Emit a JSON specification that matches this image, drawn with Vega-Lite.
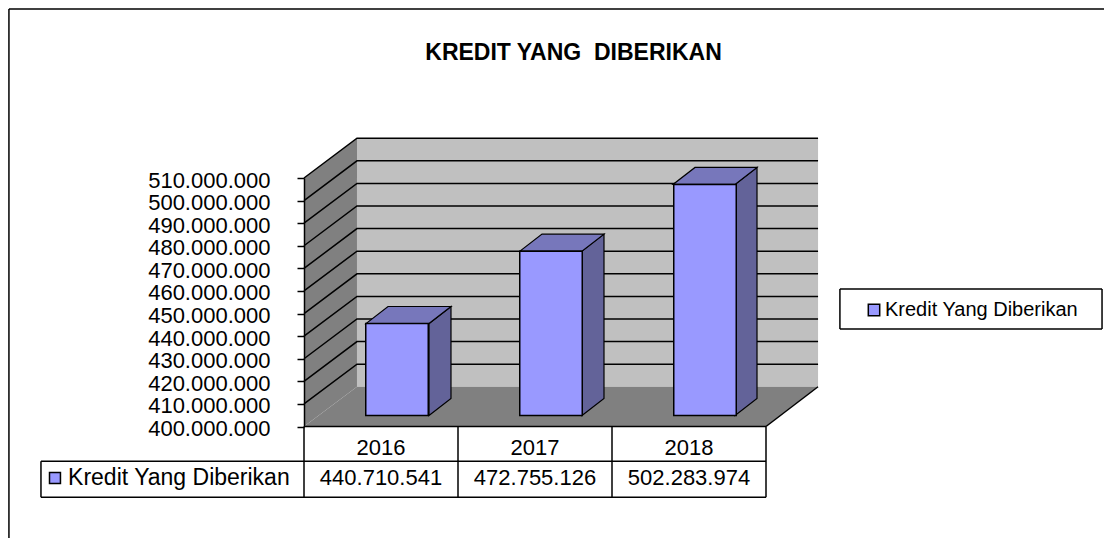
{
"$schema":"https://vega.github.io/schema/vega-lite/v6.json",
"width":462,"height":248.5,
"autosize":"none",
"padding":{"left":304,"top":178,"right":338,"bottom":111.5},
"background":"white",
"config":{"view":{"stroke":null},"font":"Liberation Sans","locale":{"number":{"decimal":",","thousands":".","grouping":[3],"currency":["",""]}}},
"datasets":{
"bars":[
{"year":"2016","value":440710541,"series":"Kredit Yang Diberikan"},
{"year":"2017","value":472755126,"series":"Kredit Yang Diberikan"},
{"year":"2018","value":502283974,"series":"Kredit Yang Diberikan"}],
"room":[
{"id":"wall","face":"wall","pos":0.344,"low":417600000,"high":527600000},
{"id":"wall","face":"wall","pos":3.338,"low":417600000,"high":527600000},
{"id":"side","face":"side wall","pos":0,"low":400000000,"high":510000000},
{"id":"side","face":"side wall","pos":0.344,"low":417600000,"high":527600000},
{"id":"floor","face":"floor","pos":0,"low":400000000,"high":400000000},
{"id":"floor","face":"floor","pos":0.344,"low":400000000,"high":417600000},
{"id":"floor","face":"floor","pos":3,"low":400000000,"high":417600000},
{"id":"floor","face":"floor","pos":3.338,"low":417600000,"high":417600000}],
"faces":[
{"id":"s16","face":"bar side","pos":0.8117,"low":404870000,"high":445580000},
{"id":"s16","face":"bar side","pos":0.9545,"low":412400000,"high":453110000},
{"id":"s17","face":"bar side","pos":1.8052,"low":404870000,"high":477625000},
{"id":"s17","face":"bar side","pos":1.948,"low":412400000,"high":485155000},
{"id":"s18","face":"bar side","pos":2.799,"low":404870000,"high":507154000},
{"id":"s18","face":"bar side","pos":2.9416,"low":412400000,"high":514684000},
{"id":"t16","face":"bar top","pos":0.4026,"low":445580000,"high":445580000},
{"id":"t16","face":"bar top","pos":0.5455,"low":445580000,"high":453110000},
{"id":"t16","face":"bar top","pos":0.8117,"low":445580000,"high":453110000},
{"id":"t16","face":"bar top","pos":0.9545,"low":453110000,"high":453110000},
{"id":"t17","face":"bar top","pos":1.4026,"low":477625000,"high":477625000},
{"id":"t17","face":"bar top","pos":1.5455,"low":477625000,"high":485155000},
{"id":"t17","face":"bar top","pos":1.8052,"low":477625000,"high":485155000},
{"id":"t17","face":"bar top","pos":1.948,"low":485155000,"high":485155000},
{"id":"t18","face":"bar top","pos":2.396,"low":507154000,"high":507154000},
{"id":"t18","face":"bar top","pos":2.539,"low":507154000,"high":514684000},
{"id":"t18","face":"bar top","pos":2.799,"low":507154000,"high":514684000},
{"id":"t18","face":"bar top","pos":2.9416,"low":514684000,"high":514684000}],
"grid":[
{"tick":410,"pos":0,"level":410000000},{"tick":410,"pos":0.344,"level":427600000},{"tick":410,"pos":3.338,"level":427600000},
{"tick":420,"pos":0,"level":420000000},{"tick":420,"pos":0.344,"level":437600000},{"tick":420,"pos":3.338,"level":437600000},
{"tick":430,"pos":0,"level":430000000},{"tick":430,"pos":0.344,"level":447600000},{"tick":430,"pos":3.338,"level":447600000},
{"tick":440,"pos":0,"level":440000000},{"tick":440,"pos":0.344,"level":457600000},{"tick":440,"pos":3.338,"level":457600000},
{"tick":450,"pos":0,"level":450000000},{"tick":450,"pos":0.344,"level":467600000},{"tick":450,"pos":3.338,"level":467600000},
{"tick":460,"pos":0,"level":460000000},{"tick":460,"pos":0.344,"level":477600000},{"tick":460,"pos":3.338,"level":477600000},
{"tick":470,"pos":0,"level":470000000},{"tick":470,"pos":0.344,"level":487600000},{"tick":470,"pos":3.338,"level":487600000},
{"tick":480,"pos":0,"level":480000000},{"tick":480,"pos":0.344,"level":497600000},{"tick":480,"pos":3.338,"level":497600000},
{"tick":490,"pos":0,"level":490000000},{"tick":490,"pos":0.344,"level":507600000},{"tick":490,"pos":3.338,"level":507600000},
{"tick":500,"pos":0,"level":500000000},{"tick":500,"pos":0.344,"level":517600000},{"tick":500,"pos":3.338,"level":517600000},
{"tick":510,"pos":0,"level":510000000},{"tick":510,"pos":0.344,"level":527600000},{"tick":510,"pos":3.338,"level":527600000},
{"tick":400,"pos":3,"level":400000000},{"tick":400,"pos":3.338,"level":417600000},
{"tick":399,"pos":0,"level":400000000},{"tick":399,"pos":3,"level":400000000}],
"rules":[
{"x":-1.916,"x2":5.4,"y":584800000,"y2":584800000},
{"x":-1.916,"x2":-1.916,"y":584800000,"y2":340000000},
{"x":-1.708,"x2":3,"y":384600000,"y2":384600000},
{"x":-1.708,"x2":3,"y":368700000,"y2":368700000},
{"x":-1.708,"x2":-1.708,"y":384600000,"y2":368700000},
{"x":0,"x2":0,"y":400000000,"y2":368700000},
{"x":1,"x2":1,"y":400000000,"y2":368700000},
{"x":2,"x2":2,"y":400000000,"y2":368700000},
{"x":3,"x2":3,"y":400000000,"y2":368700000},
{"x":3.48,"x2":5.182,"y":460900000,"y2":460900000},
{"x":3.48,"x2":5.182,"y":443200000,"y2":443200000},
{"x":3.48,"x2":3.48,"y":460900000,"y2":443200000},
{"x":5.182,"x2":5.182,"y":460900000,"y2":443200000}],
"rowname":[{"series":"Kredit Yang Diberikan"}],
"heading":[{"heading":"KREDIT YANG \u00a0DIBERIKAN"}]
},
"layer":[
{"data":{"name":"room"},"mark":{"type":"area","orient":"vertical"},
"encoding":{
"x":{"field":"pos","type":"quantitative","scale":{"domain":[0,3],"nice":false,"zero":false},"axis":null},
"y":{"field":"low","type":"quantitative","scale":{"domain":[400000000,510000000],"nice":false,"zero":false},
"axis":{"title":null,"values":[400000000,410000000,420000000,430000000,440000000,450000000,460000000,470000000,480000000,490000000,500000000,510000000],"format":",d","labelFontSize":22,"labelColor":"black","labelPadding":27,"labelOffset":2,"tickSize":7,"tickColor":"black","tickWidth":1.5,"domainColor":"black","domainWidth":1.5,"grid":false,"zindex":1,"labelOverlap":false,"labelFont":"Liberation Sans"}},
"y2":{"field":"high"},
"detail":{"field":"id"},
"color":{"field":"face","type":"nominal","legend":null,"scale":{"domain":["Kredit Yang Diberikan","wall","side wall","floor","bar side","bar top"],"range":["#9999ff","#c0c0c0","#808080","#808080","#636399","#7777bb"]}}}},
{"data":{"name":"grid"},"mark":{"type":"line","color":"black","strokeWidth":1.5,"interpolate":"linear"},
"encoding":{"x":{"field":"pos","type":"quantitative","scale":{"domain":[0,3],"nice":false,"zero":false},"axis":null},
"y":{"field":"level","type":"quantitative","axis":null,"scale":{"domain":[400000000,510000000],"nice":false,"zero":false}},
"detail":{"field":"tick"}}},
{"data":{"name":"faces"},"mark":{"type":"area","orient":"vertical","stroke":"black","strokeWidth":1.2},
"encoding":{"x":{"field":"pos","type":"quantitative","scale":{"domain":[0,3],"nice":false,"zero":false},"axis":null},
"y":{"field":"low","type":"quantitative","axis":null,"scale":{"domain":[400000000,510000000],"nice":false,"zero":false}},
"y2":{"field":"high"},
"detail":{"field":"id"},
"color":{"field":"face","type":"nominal","legend":null}}},
{"data":{"name":"rules"},"mark":{"type":"rule","color":"black","strokeWidth":1.5},
"encoding":{"x":{"field":"x","type":"quantitative","scale":{"domain":[0,3],"nice":false,"zero":false},"axis":null},"x2":{"field":"x2"},
"y":{"field":"y","type":"quantitative","axis":null,"scale":{"domain":[400000000,510000000],"nice":false,"zero":false}},"y2":{"field":"y2"}}},
{"data":{"name":"rowname"},"mark":{"type":"point","shape":"square","filled":true,"fill":"#9999ff","stroke":"black","strokeWidth":1.5,"size":120,"opacity":1},
"encoding":{"x":{"datum":-1.617,"type":"quantitative","scale":{"domain":[0,3],"nice":false,"zero":false},"axis":null},
"y":{"datum":377200000,"type":"quantitative","axis":null,"scale":{"domain":[400000000,510000000],"nice":false,"zero":false}}}},
{"data":{"name":"rowname"},"mark":{"type":"text","align":"left","baseline":"middle","fontSize":23,"color":"black"},
"encoding":{"x":{"datum":-1.532,"type":"quantitative","scale":{"domain":[0,3],"nice":false,"zero":false},"axis":null},
"y":{"datum":377200000,"type":"quantitative","axis":null,"scale":{"domain":[400000000,510000000],"nice":false,"zero":false}},
"text":{"field":"series"}}},
{"data":{"name":"heading"},"mark":{"type":"text","align":"center","baseline":"middle","fontSize":23,"fontWeight":"bold","color":"black"},
"encoding":{"x":{"datum":1.75,"type":"quantitative","scale":{"domain":[0,3],"nice":false,"zero":false},"axis":null},
"y":{"datum":565500000,"type":"quantitative","axis":null,"scale":{"domain":[400000000,510000000],"nice":false,"zero":false}},
"text":{"field":"heading"}}},
{"data":{"name":"bars"},"mark":{"type":"bar","size":62.5,"xOffset":16,"yOffset":-11,"y2Offset":-11,"stroke":"black","strokeWidth":1.5},
"encoding":{"x":{"field":"year","type":"nominal","scale":{"type":"band","paddingInner":0,"paddingOuter":0},
"axis":{"title":null,"orient":"bottom","labelAngle":0,"labelFontSize":22,"labelColor":"black","labelPadding":11,"ticks":false,"tickSize":0,"domain":false,"zindex":1,"labelFont":"Liberation Sans"}},
"y":{"field":"value","type":"quantitative","axis":null,"scale":{"domain":[400000000,510000000],"nice":false,"zero":false}},
"y2":{"datum":400000000},
"color":{"field":"series","type":"nominal","legend":{"title":null,"orient":"none","legendX":560,"legendY":122,"padding":0,"values":["Kredit Yang Diberikan"],"symbolType":"square","symbolSize":130,"symbolStrokeColor":"black","symbolStrokeWidth":1.5,"labelFontSize":20,"labelColor":"black","labelFont":"Liberation Sans","labelLimit":260,"labelOffset":1}}}},
{"data":{"name":"bars"},"mark":{"type":"text","align":"center","baseline":"middle","fontSize":22,"color":"black"},
"encoding":{"x":{"field":"year","type":"nominal","scale":{"type":"band","paddingInner":0,"paddingOuter":0},"axis":null},
"y":{"datum":377200000,"type":"quantitative","axis":null,"scale":{"domain":[400000000,510000000],"nice":false,"zero":false}},
"text":{"field":"value","type":"quantitative","format":",d"}}}
],
"resolve":{"scale":{"x":"independent"},"axis":{"x":"independent","y":"independent"},"legend":{"color":"independent"}}
}
